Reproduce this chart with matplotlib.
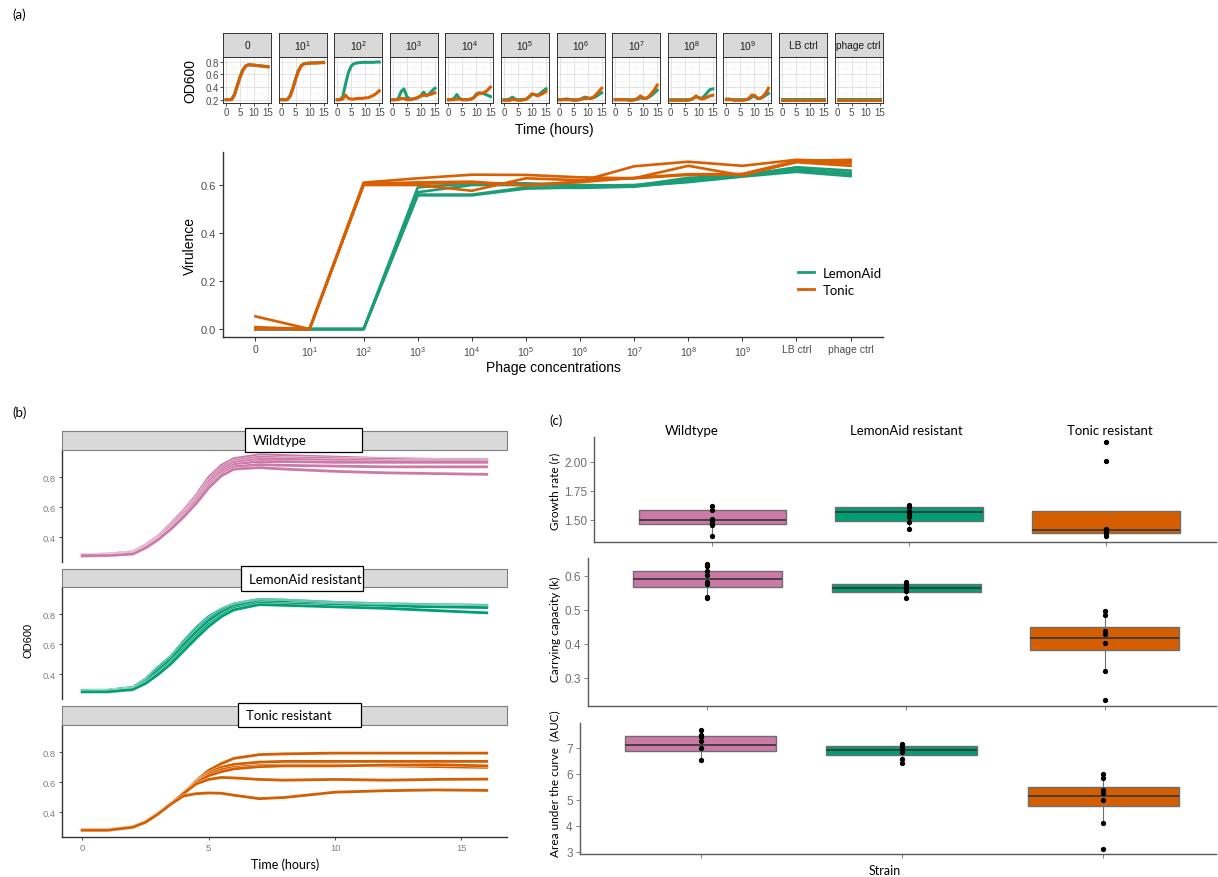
import numpy as np
import matplotlib
matplotlib.use("Agg")
import matplotlib.pyplot as plt
import matplotlib.patheffects as pe
from matplotlib.patches import Rectangle
from matplotlib.lines import Line2D
from matplotlib import font_manager

plt.rcParams["font.family"] = ["Liberation Sans", "DejaVu Sans"]
plt.rcParams["mathtext.default"] = "regular"
_names = {f.name for f in font_manager.fontManager.ttflist}
HUM = "Lato" if "Lato" in _names else "DejaVu Sans"
NARROW = "Liberation Sans Narrow" if "Liberation Sans Narrow" in _names else "Liberation Sans"

# ---------------- data: (a) growth in phage dilutions ----------------
facet_labels = ["0", "$10^1$", "$10^2$", "$10^3$", "$10^4$", "$10^5$", "$10^6$",
                "$10^7$", "$10^8$", "$10^9$", "LB ctrl", "phage ctrl"]
hours = list(range(16))
lemonaid_od = [
    [0.20, 0.20, 0.21, 0.28, 0.42, 0.56, 0.67, 0.73, 0.75, 0.75, 0.745, 0.74, 0.735, 0.73, 0.725, 0.72],
    [0.20, 0.20, 0.20, 0.26, 0.38, 0.53, 0.66, 0.74, 0.77, 0.775, 0.78, 0.78, 0.78, 0.785, 0.785, 0.785],
    [0.20, 0.20, 0.25, 0.45, 0.63, 0.73, 0.77, 0.78, 0.785, 0.79, 0.79, 0.79, 0.79, 0.79, 0.795, 0.795],
    [0.20, 0.20, 0.22, 0.33, 0.37, 0.25, 0.21, 0.21, 0.22, 0.23, 0.26, 0.32, 0.26, 0.29, 0.34, 0.38],
    [0.20, 0.20, 0.22, 0.28, 0.22, 0.20, 0.20, 0.20, 0.21, 0.23, 0.29, 0.31, 0.30, 0.29, 0.27, 0.25],
    [0.20, 0.20, 0.21, 0.24, 0.21, 0.20, 0.20, 0.20, 0.21, 0.24, 0.29, 0.28, 0.27, 0.30, 0.34, 0.37],
    [0.20, 0.20, 0.21, 0.21, 0.20, 0.20, 0.20, 0.20, 0.22, 0.24, 0.23, 0.22, 0.23, 0.25, 0.28, 0.31],
    [0.20, 0.20, 0.20, 0.20, 0.20, 0.20, 0.20, 0.20, 0.21, 0.23, 0.22, 0.22, 0.24, 0.27, 0.31, 0.35],
    [0.20, 0.20, 0.20, 0.20, 0.20, 0.20, 0.20, 0.20, 0.22, 0.25, 0.23, 0.22, 0.26, 0.31, 0.36, 0.37],
    [0.21, 0.21, 0.20, 0.20, 0.20, 0.20, 0.20, 0.20, 0.21, 0.24, 0.26, 0.22, 0.22, 0.24, 0.27, 0.30],
    [0.205] * 16,
    [0.215] * 16,
]
tonic_od = [
    [0.20, 0.20, 0.20, 0.27, 0.41, 0.55, 0.66, 0.73, 0.75, 0.75, 0.745, 0.74, 0.735, 0.73, 0.725, 0.72],
    [0.20, 0.20, 0.20, 0.25, 0.37, 0.52, 0.65, 0.73, 0.765, 0.77, 0.775, 0.78, 0.78, 0.78, 0.785, 0.79],
    [0.20, 0.20, 0.21, 0.27, 0.22, 0.21, 0.21, 0.22, 0.22, 0.22, 0.23, 0.23, 0.25, 0.27, 0.30, 0.34],
    [0.20, 0.20, 0.20, 0.22, 0.22, 0.20, 0.20, 0.21, 0.22, 0.24, 0.26, 0.27, 0.27, 0.28, 0.29, 0.31],
    [0.20, 0.20, 0.20, 0.21, 0.21, 0.20, 0.20, 0.20, 0.21, 0.23, 0.27, 0.30, 0.30, 0.32, 0.35, 0.40],
    [0.19, 0.19, 0.19, 0.20, 0.20, 0.19, 0.19, 0.20, 0.21, 0.25, 0.29, 0.28, 0.26, 0.28, 0.30, 0.33],
    [0.20, 0.20, 0.20, 0.20, 0.20, 0.19, 0.19, 0.20, 0.21, 0.22, 0.22, 0.22, 0.24, 0.28, 0.33, 0.38],
    [0.20, 0.20, 0.20, 0.20, 0.20, 0.19, 0.19, 0.20, 0.22, 0.26, 0.23, 0.22, 0.25, 0.30, 0.36, 0.43],
    [0.19, 0.19, 0.19, 0.19, 0.19, 0.19, 0.19, 0.20, 0.22, 0.26, 0.23, 0.21, 0.22, 0.24, 0.26, 0.27],
    [0.20, 0.20, 0.20, 0.19, 0.19, 0.19, 0.19, 0.20, 0.22, 0.27, 0.27, 0.23, 0.22, 0.25, 0.30, 0.38],
    [0.20] * 16,
    [0.20] * 16,
]

# ---------------- data: (a) virulence index ----------------
lemonaid_virulence = [
    [0, 0, 0, 0.590, 0.607, 0.607, 0.600, 0.597, 0.630, 0.640, 0.674, 0.660],
    [0, 0, 0, 0.570, 0.600, 0.600, 0.597, 0.600, 0.620, 0.637, 0.665, 0.650],
    [0, 0, 0, 0.557, 0.557, 0.585, 0.590, 0.596, 0.612, 0.635, 0.655, 0.637],
    [0, 0, 0, 0.560, 0.560, 0.590, 0.588, 0.593, 0.615, 0.640, 0.660, 0.645],
]
tonic_virulence = [
    [0.053, 0, 0.610, 0.628, 0.643, 0.642, 0.632, 0.628, 0.642, 0.646, 0.700, 0.705],
    [0.008, 0, 0.605, 0.611, 0.614, 0.598, 0.615, 0.678, 0.697, 0.680, 0.705, 0.698],
    [0.004, 0, 0.600, 0.600, 0.576, 0.628, 0.620, 0.628, 0.680, 0.640, 0.697, 0.690],
    [0.000, 0, 0.603, 0.605, 0.610, 0.600, 0.612, 0.630, 0.645, 0.645, 0.695, 0.680],
]

# ---------------- data: (b) growth curves without phage ----------------
time_b = [0, 1, 2, 2.5, 3, 3.5, 4, 4.5, 5, 5.5, 6, 7, 8, 10, 12, 14, 16]
wildtype_curves = [
    [0.285, 0.29, 0.305, 0.35, 0.41, 0.49, 0.58, 0.68, 0.80, 0.88, 0.925, 0.95, 0.945, 0.935, 0.925, 0.92, 0.92],
    [0.28, 0.285, 0.30, 0.345, 0.405, 0.48, 0.57, 0.67, 0.78, 0.865, 0.91, 0.935, 0.93, 0.925, 0.92, 0.915, 0.915],
    [0.28, 0.285, 0.30, 0.34, 0.40, 0.475, 0.56, 0.66, 0.77, 0.85, 0.90, 0.92, 0.92, 0.915, 0.91, 0.91, 0.91],
    [0.275, 0.28, 0.295, 0.335, 0.395, 0.47, 0.555, 0.65, 0.755, 0.835, 0.885, 0.905, 0.905, 0.90, 0.90, 0.90, 0.90],
    [0.28, 0.28, 0.295, 0.33, 0.39, 0.46, 0.545, 0.64, 0.745, 0.82, 0.87, 0.885, 0.88, 0.875, 0.87, 0.87, 0.87],
    [0.28, 0.28, 0.29, 0.33, 0.385, 0.455, 0.535, 0.625, 0.73, 0.81, 0.855, 0.865, 0.855, 0.84, 0.83, 0.825, 0.82],
]
lemonaid_curves = [
    [0.295, 0.295, 0.315, 0.37, 0.45, 0.52, 0.62, 0.71, 0.785, 0.835, 0.87, 0.90, 0.895, 0.88, 0.87, 0.865, 0.86],
    [0.29, 0.29, 0.31, 0.365, 0.445, 0.515, 0.615, 0.70, 0.775, 0.83, 0.865, 0.895, 0.89, 0.875, 0.865, 0.86, 0.855],
    [0.29, 0.29, 0.305, 0.36, 0.44, 0.51, 0.605, 0.69, 0.77, 0.825, 0.86, 0.89, 0.885, 0.87, 0.86, 0.855, 0.85],
    [0.285, 0.29, 0.305, 0.355, 0.43, 0.50, 0.595, 0.68, 0.76, 0.815, 0.855, 0.885, 0.88, 0.865, 0.86, 0.855, 0.85],
    [0.285, 0.285, 0.30, 0.345, 0.41, 0.48, 0.57, 0.655, 0.735, 0.795, 0.84, 0.875, 0.87, 0.86, 0.855, 0.85, 0.845],
    [0.285, 0.285, 0.30, 0.34, 0.40, 0.47, 0.555, 0.64, 0.72, 0.785, 0.83, 0.865, 0.86, 0.85, 0.84, 0.825, 0.81],
]
tonic_curves = [
    [0.285, 0.285, 0.305, 0.34, 0.395, 0.46, 0.53, 0.61, 0.68, 0.725, 0.76, 0.785, 0.79, 0.795, 0.795, 0.795, 0.795],
    [0.283, 0.283, 0.303, 0.338, 0.393, 0.458, 0.528, 0.605, 0.665, 0.70, 0.72, 0.735, 0.74, 0.74, 0.74, 0.74, 0.74],
    [0.283, 0.283, 0.303, 0.337, 0.392, 0.457, 0.527, 0.60, 0.655, 0.685, 0.70, 0.712, 0.715, 0.715, 0.71, 0.705, 0.70],
    [0.282, 0.282, 0.302, 0.336, 0.391, 0.456, 0.526, 0.598, 0.645, 0.672, 0.69, 0.705, 0.71, 0.71, 0.715, 0.718, 0.71],
    [0.282, 0.282, 0.302, 0.336, 0.39, 0.455, 0.525, 0.59, 0.62, 0.633, 0.63, 0.62, 0.615, 0.62, 0.615, 0.62, 0.622],
    [0.282, 0.282, 0.302, 0.335, 0.39, 0.455, 0.51, 0.525, 0.53, 0.528, 0.515, 0.492, 0.50, 0.535, 0.545, 0.55, 0.547],
]

# ---------------- data: (c) growth parameters per strain ----------------
strains = ["Wildtype", "LemonAid resistant", "Tonic resistant"]
growth_q1 = [1.466, 1.49, 1.385]
growth_med = [1.50, 1.565, 1.415]
growth_q3 = [1.584, 1.608, 1.577]
growth_lo = [1.36, 1.42, 1.36]
growth_hi = [1.62, 1.625, 1.577]
growth_pts = [[1.62, 1.58, 1.51, 1.50, 1.48, 1.466, 1.455, 1.36],
              [1.625, 1.61, 1.575, 1.565, 1.55, 1.52, 1.48, 1.42],
              [2.167, 2.009, 1.42, 1.40, 1.39, 1.375, 1.36]]
capacity_q1 = [0.568, 0.551, 0.382]
capacity_med = [0.591, 0.564, 0.417]
capacity_q3 = [0.613, 0.574, 0.449]
capacity_lo = [0.533, 0.533, 0.32]
capacity_hi = [0.635, 0.581, 0.495]
capacity_pts = [[0.635, 0.628, 0.613, 0.603, 0.58, 0.574, 0.537, 0.533],
                [0.581, 0.576, 0.569, 0.563, 0.556, 0.533],
                [0.495, 0.485, 0.437, 0.428, 0.402, 0.32, 0.234]]
auc_q1 = [6.885, 6.72, 4.76]
auc_med = [7.12, 6.90, 5.15]
auc_q3 = [7.44, 7.05, 5.50]
auc_lo = [6.53, 6.42, 4.10]
auc_hi = [7.68, 7.16, 5.98]
auc_pts = [[7.68, 7.49, 7.40, 7.24, 6.99, 6.53],
           [7.16, 7.08, 6.95, 6.83, 6.58, 6.42],
           [5.98, 5.85, 5.37, 5.27, 4.99, 4.10, 3.09]]

# ---------------- styling ----------------
W, H = 1218, 878
GREEN_A, ORANGE_A = "#1B9E77", "#D95F02"
PINK, GREEN, ORANGE = "#CC79A7", "#009E73", "#D55E00"
TICK_GREY = "#4D4D4D"
AX_DARK = "#333333"


def px_rect(x0, y0, x1, y1):
    return [x0 / W, 1 - y1 / H, (x1 - x0) / W, (y1 - y0) / H]


def fx(x):
    return x / W


def fy(y):
    return 1 - y / H


fig = plt.figure(figsize=(W / 100, H / 100), dpi=100)

# ======================= (a) top: faceted OD600 =======================
for i, lab in enumerate(facet_labels):
    x0 = 223 + i * 55.6
    ax = fig.add_axes(px_rect(x0, 58, x0 + 48, 104))
    ax.plot(hours, lemonaid_od[i], color=GREEN_A, lw=2.2, solid_joinstyle="round")
    ax.plot(hours, tonic_od[i], color=ORANGE_A, lw=2.2, solid_joinstyle="round")
    ax.set_xlim(-1.07, 16.07)
    ax.set_ylim(0.148, 0.874)
    ax.set_xticks([0, 5, 10, 15])
    ax.set_xticks([2.5, 7.5, 12.5], minor=True)
    ax.set_yticks([0.2, 0.4, 0.6, 0.8])
    ax.set_yticks([0.3, 0.5, 0.7], minor=True)
    ax.grid(which="major", color="#E3E3E3", lw=0.7)
    ax.grid(which="minor", color="#F0F0F0", lw=0.4)
    ax.set_axisbelow(True)
    ax.tick_params(which="minor", length=0)
    ax.tick_params(which="major", length=2, width=0.6, color=AX_DARK,
                   labelsize=7, labelcolor=TICK_GREY, pad=1)
    ax.set_xticklabels(["0", "5", "10", "15"])
    if i == 0:
        ax.set_yticklabels(["0.2", "0.4", "0.6", "0.8"])
    else:
        ax.tick_params(axis="y", labelleft=False, length=0)
    for s in ax.spines.values():
        s.set_color(AX_DARK)
        s.set_linewidth(0.7)
    sx = fig.add_axes(px_rect(x0, 34, x0 + 48, 58))
    sx.set_facecolor("#D9D9D9")
    sx.set_xticks([])
    sx.set_yticks([])
    for s in sx.spines.values():
        s.set_color(AX_DARK)
        s.set_linewidth(0.7)
    sx.text(0.5, 0.5, lab, ha="center", va="center", fontsize=7.3, color="#1A1A1A",
            transform=sx.transAxes)

fig.text(fx(190), fy(81), "OD600", rotation=90, ha="center", va="center", fontsize=10)
fig.text(fx(554), fy(130), "Time (hours)", ha="center", va="center", fontsize=10)
fig.text(fx(12), fy(15), "(a)", ha="left", va="center", fontsize=9.5, family=HUM)

# ======================= (a) bottom: virulence =======================
ax = fig.add_axes(px_rect(223, 153, 883, 338))
xs = np.arange(len(facet_labels))
for rep in lemonaid_virulence:
    ax.plot(xs, rep, color=GREEN_A, lw=1.9)
for rep in tonic_virulence:
    ax.plot(xs, rep, color=ORANGE_A, lw=1.9)
ax.set_xlim(-0.6, 11.6)
ax.set_ylim(-0.033, 0.7375)
ax.set_xticks(xs)
ax.set_xticklabels(facet_labels)
ax.set_yticks([0, 0.2, 0.4, 0.6])
ax.set_yticklabels(["0.0", "0.2", "0.4", "0.6"])
ax.tick_params(length=3, width=0.7, color=AX_DARK, labelcolor=TICK_GREY, labelsize=7.5, pad=2)
ax.tick_params(axis="y", labelsize=8)
ax.spines["top"].set_visible(False)
ax.spines["right"].set_visible(False)
for s in ("left", "bottom"):
    ax.spines[s].set_color(AX_DARK)
    ax.spines[s].set_linewidth(1.0)
handles = [Line2D([], [], color=GREEN_A, lw=2), Line2D([], [], color=ORANGE_A, lw=2)]
ax.legend(handles, ["LemonAid", "Tonic"], loc="upper left",
          bbox_to_anchor=(fx(798), fy(268)), bbox_transform=fig.transFigure,
          frameon=False, borderpad=0, borderaxespad=0, handlelength=1.2,
          handletextpad=0.7, labelspacing=0.38, prop={"family": HUM, "size": 9.5})
fig.text(fx(190), fy(246), "Virulence", rotation=90, ha="center", va="center", fontsize=10)
fig.text(fx(553), fy(368), "Phage concentrations", ha="center", va="center", fontsize=10)

# ======================= (b) growth curves =======================
fig.text(fx(12), fy(413), "(b)", ha="left", va="center", fontsize=9.5, family=HUM)
b_panels = [
    ("Wildtype", wildtype_curves, PINK, (432, 451), (451, 563), (245, 429, 362, 453)),
    ("LemonAid resistant", lemonaid_curves, GREEN, (570, 588), (588, 700), (240.7, 567.3, 363.3, 591.7)),
    ("Tonic resistant", tonic_curves, ORANGE, (707, 726), (726, 838), (238.3, 704, 360.7, 728.3)),
]
for k, (name, curves, col, (sy0, sy1), (py0, py1), (bx0, by0, bx1, by1)) in enumerate(b_panels):
    ax = fig.add_axes(px_rect(62, py0, 507, py1))
    for c in curves:
        ax.plot(time_b, c, color=col, lw=2.0,
                path_effects=[pe.Stroke(linewidth=2.4, foreground="white"), pe.Normal()])
    ax.set_xlim(-0.8, 16.8)
    ax.set_ylim(0.237, 0.982)
    ax.set_yticks([0.4, 0.6, 0.8])
    ax.set_yticklabels(["0.4", "0.6", "0.8"])
    ax.set_xticks([0, 5, 10, 15])
    ax.tick_params(length=2.5, width=0.6, color=AX_DARK, labelcolor="#7F7F7F", labelsize=6.8, pad=2)
    ax.spines["top"].set_visible(False)
    ax.spines["right"].set_visible(False)
    ax.spines["left"].set_color(AX_DARK)
    ax.spines["left"].set_linewidth(1.0)
    if k < 2:
        ax.spines["bottom"].set_visible(False)
        ax.tick_params(axis="x", bottom=False, labelbottom=False)
    else:
        ax.spines["bottom"].set_color(AX_DARK)
        ax.spines["bottom"].set_linewidth(1.0)
    fig.add_artist(Rectangle((fx(62), fy(sy1)), (507 - 62) / W, (sy1 - sy0) / H,
                             transform=fig.transFigure, facecolor="#D9D9D9",
                             edgecolor="#7F7F7F", lw=0.8))
    fig.add_artist(Rectangle((fx(bx0), fy(by1)), (bx1 - bx0) / W, (by1 - by0) / H,
                             transform=fig.transFigure, facecolor="white",
                             edgecolor="black", lw=0.9, zorder=5))
    fig.text(fx(bx0 + 8), fy((by0 + by1) / 2), name, ha="left", va="center",
             fontsize=9.5, family=HUM, zorder=6)

fig.text(fx(28), fy(640), "OD600", rotation=90, ha="center", va="center", fontsize=8)
fig.text(fx(285), fy(865), "Time (hours)", ha="center", va="center", fontsize=9, family=HUM)

# ======================= (c) growth parameters =======================
fig.text(fx(549), fy(421), "(c)", ha="left", va="center", fontsize=9.5, family=HUM)
for name, xc in zip(strains, [691.7, 906, 1110]):
    fig.text(fx(xc), fy(431), name, ha="center", va="center", fontsize=9.5, family=HUM)

c_panels = [
    ((594.3, 438.3, 1216, 542.7), growth_q1, growth_med, growth_q3, growth_lo, growth_hi, growth_pts,
     (1.31, 2.21), [1.50, 1.75, 2.00], ["1.50", "1.75", "2.00"], "Growth rate (r)", 491.7),
    ((588.3, 559.3, 1216, 707.3), capacity_q1, capacity_med, capacity_q3, capacity_lo, capacity_hi,
     capacity_pts, (0.216, 0.651), [0.3, 0.4, 0.5, 0.6], ["0.3", "0.4", "0.5", "0.6"],
     "Carrying capacity (k)", 629),
    ((579.7, 724, 1216, 855.3), auc_q1, auc_med, auc_q3, auc_lo, auc_hi, auc_pts,
     (2.9, 7.95), [3, 4, 5, 6, 7], ["3", "4", "5", "6", "7"], "Area under the curve  (AUC)", 784),
]
box_colors = [PINK, GREEN, ORANGE]
for rect, q1, med, q3, lo, hi, pts, ylim, yt, ytl, ylab, ylab_y in c_panels:
    ax = fig.add_axes(px_rect(*rect))
    stats = [dict(q1=q1[j], med=med[j], q3=q3[j], whislo=lo[j], whishi=hi[j],
                  fliers=[], label=strains[j]) for j in range(3)]
    bp = ax.bxp(stats, positions=[1, 2, 3], widths=0.75, patch_artist=True,
                showfliers=False, showcaps=False,
                boxprops=dict(edgecolor="#6E6E6E", linewidth=1.0),
                medianprops=dict(color="#3A3A3A", linewidth=1.3),
                whiskerprops=dict(color="#6E6E6E", linewidth=0.8))
    for patch, col in zip(bp["boxes"], box_colors):
        patch.set_facecolor(col)
    for j, p in enumerate(pts):
        ax.plot(np.full(len(p), j + 1.0), p, "o", color="black", ms=2.8, zorder=5)
    ax.set_xlim(0.4, 3.56)
    ax.set_ylim(*ylim)
    ax.set_yticks(yt)
    ax.set_yticklabels(ytl, family=NARROW)
    ax.set_xticks([1, 2, 3])
    ax.set_xticklabels([])
    ax.tick_params(length=3, width=0.6, color="#6E6E6E", labelcolor="#6B6F78", labelsize=8.5, pad=2)
    ax.spines["top"].set_visible(False)
    ax.spines["right"].set_visible(False)
    for s in ("left", "bottom"):
        ax.spines[s].set_color("#5A5A5A")
        ax.spines[s].set_linewidth(1.0)
    fig.text(fx(555), fy(ylab_y), ylab, rotation=90, ha="center", va="center",
             fontsize=8.5, family=HUM)

fig.text(fx(885), fy(871), "Strain", ha="center", va="center", fontsize=9, family=HUM)

fig.savefig("out.png", dpi=100)
